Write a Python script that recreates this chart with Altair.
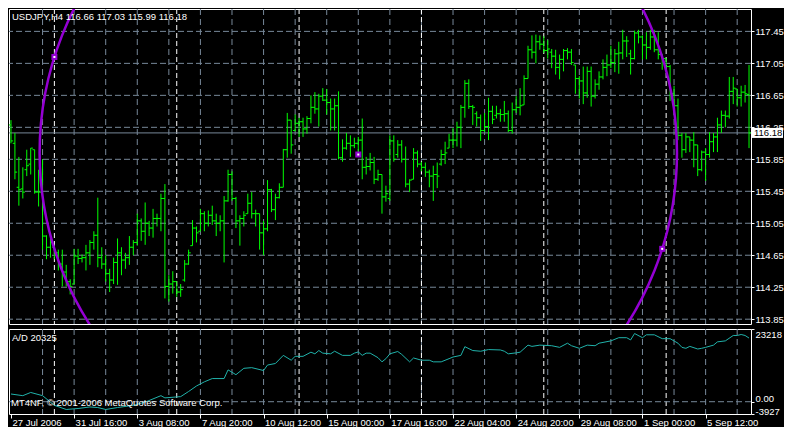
import math
import altair as alt
import pandas as pd

SYMBOL = "USDJPY,H4"

highs = [116.34, 116.18, 115.88, 115.75, 115.97, 115.99, 115.97, 115.72, 115.85, 114.90,
         114.93, 114.77, 114.72, 114.72, 114.53, 114.35, 114.73, 114.73, 114.66, 114.78,
         114.84, 114.95, 115.37, 114.75, 114.65, 114.48, 114.62, 114.86, 114.75, 114.68,
         114.89, 114.84, 115.17, 115.11, 115.31, 115.08, 115.23, 115.17, 115.42, 115.54,
         114.40, 114.45, 114.32, 114.29, 114.59, 114.72, 115.09, 115.01, 115.23, 115.20,
         115.21, 115.27, 115.17, 115.15, 115.39, 115.72, 115.70, 115.38, 115.15, 115.20,
         115.42, 115.44, 115.22, 115.17, 115.08, 115.59, 115.48, 115.42, 115.55, 115.98,
         116.43, 116.34, 116.41, 116.37, 116.37, 116.39, 116.65, 116.69, 116.67, 116.74,
         116.73, 116.61, 116.61, 116.70, 116.10, 116.18, 116.15, 116.12, 116.13, 116.36,
         115.88, 115.93, 115.88, 115.72, 115.66, 115.52, 116.15, 116.15, 116.09, 116.09,
         116.01, 115.60, 115.99, 115.96, 115.82, 115.81, 115.72, 115.77, 115.81, 115.97,
         116.07, 116.17, 116.24, 116.32, 116.53, 116.84, 116.85, 116.53, 116.45, 116.41,
         116.43, 116.62, 116.52, 116.52, 116.48, 116.58, 116.46, 116.56, 116.64, 116.74,
         116.90, 117.27, 117.40, 117.41, 117.40, 117.39, 117.34, 117.23, 117.22, 117.16,
         117.23, 117.24, 117.23, 117.03, 116.89, 117.01, 117.01, 117.01, 116.85, 116.95,
         117.10, 117.16, 117.27, 117.23, 117.32, 117.47, 117.39, 117.22, 117.46, 117.47,
         117.40, 117.44, 117.47, 117.47, 117.44, 117.17, 117.11, 117.03, 116.77, 116.61,
         116.18, 116.18, 116.13, 116.19, 116.03, 115.96, 115.99, 116.19, 116.18, 116.37,
         116.46, 116.46, 116.88, 116.88, 116.73, 116.77, 116.78, 117.03]

lows = [116.05, 115.60, 115.27, 115.36, 115.64, 115.66, 115.42, 115.26, 114.72, 114.60,
        114.62, 114.60, 114.46, 114.26, 114.26, 114.16, 114.29, 114.54, 114.56, 114.46,
        114.53, 114.72, 114.50, 114.48, 114.32, 114.19, 114.29, 114.28, 114.40, 114.48,
        114.53, 114.65, 114.77, 114.83, 114.78, 114.89, 114.87, 115.01, 114.95, 114.11,
        114.07, 114.17, 114.13, 114.13, 114.32, 114.53, 114.77, 114.81, 114.95, 114.95,
        115.01, 115.03, 114.89, 114.95, 114.56, 115.32, 115.33, 114.99, 114.77, 115.01,
        115.17, 115.11, 115.01, 114.72, 114.65, 114.95, 115.19, 115.09, 115.36, 115.50,
        115.87, 115.92, 116.20, 116.13, 116.13, 116.17, 116.30, 116.42, 116.26, 116.58,
        116.41, 116.21, 116.21, 115.85, 115.82, 115.97, 115.88, 115.99, 115.93, 115.60,
        115.66, 115.71, 115.54, 115.58, 115.17, 115.32, 115.33, 115.82, 115.87, 115.81,
        115.50, 115.44, 115.60, 115.75, 115.70, 115.63, 115.50, 115.33, 115.49, 115.77,
        115.79, 115.99, 115.99, 116.01, 115.99, 116.37, 116.48, 116.28, 116.26, 116.08,
        116.19, 116.09, 116.29, 116.36, 116.32, 116.32, 116.19, 116.17, 116.43, 116.40,
        116.53, 116.86, 117.11, 117.05, 117.22, 117.18, 117.11, 116.99, 116.91, 116.85,
        116.95, 117.10, 117.03, 116.67, 116.61, 116.54, 116.62, 116.51, 116.61, 116.72,
        116.85, 116.89, 116.99, 116.94, 116.92, 117.10, 117.13, 116.91, 117.10, 117.30,
        117.10, 117.10, 117.22, 117.19, 117.10, 116.97, 116.95, 116.58, 116.40, 116.09,
        115.87, 115.93, 115.94, 115.75, 115.64, 115.70, 115.58, 115.87, 115.94, 115.94,
        116.18, 116.25, 116.36, 116.54, 116.51, 116.51, 116.56, 115.99]

opens = [116.28, 116.05, 115.50, 115.48, 115.72, 115.79, 115.97, 115.44, 115.44, 114.89,
         114.75, 114.75, 114.68, 114.54, 114.44, 114.32, 114.29, 114.64, 114.61, 114.62,
         114.68, 114.81, 114.90, 114.62, 114.54, 114.42, 114.34, 114.56, 114.68, 114.59,
         114.62, 114.75, 114.81, 115.08, 114.95, 115.05, 114.99, 115.11, 115.11, 115.36,
         114.26, 114.29, 114.32, 114.19, 114.34, 114.54, 114.77, 114.99, 114.95, 115.17,
         115.05, 115.15, 115.08, 115.05, 115.08, 115.33, 115.66, 115.36, 115.08, 115.11,
         115.17, 115.30, 115.17, 115.17, 114.93, 114.98, 115.47, 115.22, 115.37, 115.50,
         115.97, 116.34, 116.21, 116.30, 116.32, 116.23, 116.36, 116.50, 116.48, 116.64,
         116.59, 116.56, 116.48, 116.52, 115.87, 115.99, 116.05, 116.02, 116.05, 116.09,
         115.75, 115.76, 115.81, 115.60, 115.66, 115.38, 115.36, 116.08, 115.91, 116.03,
         115.85, 115.54, 115.60, 115.93, 115.79, 115.75, 115.69, 115.64, 115.66, 115.79,
         115.91, 115.99, 116.09, 116.09, 116.25, 116.50, 116.80, 116.51, 116.42, 116.37,
         116.21, 116.26, 116.45, 116.40, 116.42, 116.41, 116.42, 116.21, 116.47, 116.50,
         116.53, 116.86, 117.22, 117.19, 117.32, 117.29, 117.21, 117.19, 117.14, 117.00,
         117.10, 117.21, 117.19, 117.03, 116.86, 116.83, 116.68, 116.95, 116.64, 116.79,
         116.88, 117.00, 117.03, 117.06, 117.17, 117.18, 117.33, 117.17, 117.11, 117.43,
         117.38, 117.28, 117.25, 117.38, 117.22, 117.16, 117.11, 117.01, 116.67, 116.52,
         116.15, 115.97, 116.13, 116.09, 116.03, 115.72, 115.94, 115.91, 116.07, 116.13,
         116.28, 116.40, 116.39, 116.70, 116.73, 116.62, 116.69, 116.66]

closes = [116.08, 115.69, 115.47, 115.44, 115.77, 115.99, 115.44, 115.44, 114.89, 114.75,
          114.81, 114.68, 114.54, 114.44, 114.32, 114.26, 114.64, 114.61, 114.62, 114.68,
          114.81, 114.90, 114.62, 114.54, 114.42, 114.34, 114.56, 114.68, 114.59, 114.62,
          114.75, 114.81, 115.08, 114.95, 115.05, 114.99, 115.11, 115.11, 115.36, 114.26,
          114.29, 114.32, 114.19, 114.22, 114.54, 114.68, 114.99, 114.93, 115.17, 115.05,
          115.15, 115.08, 115.05, 115.08, 115.33, 115.66, 115.36, 115.08, 115.11, 115.15,
          115.30, 115.17, 115.17, 114.93, 114.98, 115.47, 115.22, 115.37, 115.50, 115.97,
          116.34, 116.03, 116.30, 116.32, 116.23, 116.36, 116.50, 116.48, 116.64, 116.59,
          116.56, 116.48, 116.52, 115.87, 115.99, 116.05, 116.02, 116.05, 116.09, 115.75,
          115.76, 115.81, 115.60, 115.66, 115.38, 115.42, 116.08, 115.85, 116.03, 115.85,
          115.54, 115.59, 115.93, 115.79, 115.75, 115.69, 115.64, 115.66, 115.64, 115.91,
          115.93, 116.09, 116.09, 116.25, 116.50, 116.80, 116.51, 116.50, 116.37, 116.21,
          116.26, 116.45, 116.35, 116.42, 116.41, 116.42, 116.21, 116.47, 116.50, 116.52,
          116.86, 117.22, 117.19, 117.32, 117.29, 117.21, 117.23, 117.14, 117.00, 117.10,
          117.21, 117.19, 117.06, 116.86, 116.83, 116.68, 116.95, 116.64, 116.79, 116.88,
          117.00, 117.03, 117.06, 117.17, 117.18, 117.33, 117.33, 117.11, 117.43, 117.38,
          117.28, 117.25, 117.38, 117.22, 117.16, 117.11, 117.01, 116.67, 116.52, 116.15,
          115.97, 116.13, 116.09, 116.03, 115.72, 115.94, 115.91, 116.07, 116.13, 116.28,
          116.40, 116.39, 116.70, 116.74, 116.62, 116.69, 116.67, 116.18]

# bottom time scale
date_ticks = [0, 16, 32, 48, 64, 80, 96, 112, 128, 144, 160, 176]
date_labels = ["27 Jul 2006", "31 Jul 16:00", "3 Aug 08:00", "7 Aug 20:00",
               "10 Aug 12:00", "15 Aug 00:00", "17 Aug 16:00", "22 Aug 04:00",
               "24 Aug 20:00", "29 Aug 08:00", "1 Sep 00:00", "5 Sep 12:00"]
grid_bars = [8, 16, 24, 32, 40, 48, 56, 64, 72, 80, 88, 96, 104, 112, 120, 128,
             136, 144, 152, 160, 168, 176, 184]
week_separators = [11, 42, 73, 104, 135, 166]
price_levels = [113.85, 114.25, 114.65, 115.05, 115.45, 115.85, 116.25, 116.65, 117.05, 117.45]
bid = 116.18

# Accumulation/Distribution sub-window
ad_bar = [0, 3, 5, 8, 11, 14, 17, 20, 22, 24, 27, 31, 34, 38, 39, 43, 45, 47, 49, 51,
          54, 55, 57, 59, 61, 64, 65, 67, 69, 71, 72, 74, 76, 77, 78, 79, 81, 82, 84, 86,
          87, 88, 89, 90, 91, 93, 94, 95, 96, 98, 99, 101, 102, 104, 106, 107, 109, 111, 112, 114,
          115, 117, 119, 121, 124, 125, 126, 128, 129, 131, 132, 134, 137, 139, 141, 142, 144, 146, 148, 149,
          152, 154, 156, 157, 158, 160, 161, 163, 165, 167, 169, 170, 171, 172, 174, 175, 176, 178, 179, 181,
          183, 184, 185, 186, 187]
ad_value = [2456, 1931, 2950, 1931, -1154, -2480, -2172, -1678, -1863, -2480, -1863, -1154, -135, 1931, 1222, 1623, 3258, 5016, 6343, 7392,
            7392, 10168, 8626, 10662, 10878, 9952, 11711, 12205, 14796, 13253, 14487, 14487, 15814, 15290, 16338, 15505, 15290, 16122, 14796, 14796,
            15505, 15907, 14796, 15505, 15505, 14056, 12729, 13747, 15290, 16030, 15104, 12729, 13963, 13253, 13253, 12729, 12729, 13747, 14271, 14796,
            17572, 16338, 16122, 16647, 16524, 16122, 15290, 15598, 15814, 18066, 17665, 18066, 17881, 17356, 18683, 17881, 17048, 18066, 17881, 18683,
            19423, 20441, 20441, 19732, 21768, 20441, 21367, 21367, 20133, 20133, 18683, 17356, 17048, 17665, 16832, 17048, 17356, 18066, 19115, 19423,
            21151, 21151, 21460, 21151, 20325]
ad_max = 23218
ad_min = -3927

# ellipse object anchors (bar, price)
ellipse_bar = [11, 88, 165]
ellipse_price = [117.13, 115.91, 114.73]

# ---------------- styling ----------------
FONT = "Liberation Sans"
FS = 9.5
GRID = "#778899"
BAR = "#00ff00"
ADC = "#20b2aa"
PURPLE = "#9400d3"
PLOT_W = 742
MAIN_H = 315
IND_H = 85
n = len(highs)
PX_PER_BAR = PLOT_W / n

x_scale = alt.Scale(domain=[-0.5, n - 0.5], nice=False, zero=False)
y_scale = alt.Scale(domain=[113.79, 117.73], nice=False, zero=False)
PX_PER_YEN = MAIN_H / (117.73 - 113.79)
ad_scale = alt.Scale(domain=[ad_min, ad_max], nice=False, zero=False)

bars = pd.DataFrame({"i": list(range(n)), "open": opens, "high": highs,
                     "low": lows, "close": closes})

price_axis = alt.Axis(orient="right", values=price_levels, format=".2f",
                      labelFont=FONT, labelFontSize=FS, labelColor="white",
                      tickColor="white", tickSize=3, labelPadding=1, zindex=0,
                      domain=False, grid=False, labelOverlap=False, title=None)
label_expr = "[" + ", ".join(f"'{s}'" for s in date_labels) + "][round(datum.value / 16)]"
time_axis = alt.Axis(orient="bottom", values=date_ticks, labelExpr=label_expr,
                     labelAlign="left", labelBaseline="top", labelPadding=-1,
                     labelOffset=1, tickSize=4, tickColor="white",
                     labelColor="white", labelFont=FONT, labelFontSize=FS,
                     domain=False, grid=False, labelOverlap=False, labelBound=False,
                     labelFlush=False, title=None)
ad_axis = alt.Axis(orient="right", values=[ad_max, 0, ad_min],
                   labelExpr="datum.value == 0 ? '0.00' : '' + datum.value",
                   labelBaseline={"condition": {"test": "datum.value > 0", "value": "top"},
                                  "value": "alphabetic"},
                   labelFont=FONT, labelFontSize=FS, labelColor="white",
                   tickColor="white", tickSize=3, labelPadding=1, labelFlush=False,
                   domain=False, grid=False, labelOverlap=False, title=None)


def mx(field):
    return alt.X(f"{field}:Q", scale=x_scale, axis=None, title=None)


def my(field):
    return alt.Y(f"{field}:Q", scale=y_scale, axis=price_axis, title=None)


def ix(field):
    return alt.X(f"{field}:Q", scale=x_scale, axis=time_axis, title=None)


def iy(field):
    return alt.Y(f"{field}:Q", scale=ad_scale, axis=ad_axis, title=None)


# ---- main window ----
hgrid = alt.Chart(pd.DataFrame({"level": price_levels})).mark_rule(
    color=GRID, strokeDash=[6, 3], strokeWidth=1).encode(y=my("level"))
vgrid_df = pd.DataFrame({"bar": grid_bars})
sep_df = pd.DataFrame({"bar": week_separators})
vgrid = alt.Chart(vgrid_df).mark_rule(color=GRID, strokeDash=[6, 4], strokeWidth=1).encode(x=mx("bar"))
seps = alt.Chart(sep_df).mark_rule(color="white", strokeDash=[5, 3], strokeWidth=1).encode(x=mx("bar"))
bid_df = pd.DataFrame({"price": [bid]})
bidline = alt.Chart(bid_df).mark_rule(color=GRID, strokeWidth=1).encode(y=my("price"))

hl = alt.Chart(bars).mark_rule(color=BAR, strokeWidth=1, clip=True).encode(
    x=mx("i"), y=my("low"), y2="high:Q")
op = alt.Chart(bars).mark_rule(color=BAR, strokeWidth=1, xOffset=-2.2, x2Offset=0, clip=True).encode(
    x=mx("i"), x2="i:Q", y=my("open"))
cl = alt.Chart(bars).mark_rule(color=BAR, strokeWidth=1, xOffset=0, x2Offset=2.2, clip=True).encode(
    x=mx("i"), x2="i:Q", y=my("close"))

cx = (ellipse_bar[0] + ellipse_bar[2]) / 2
cy = (ellipse_price[0] + ellipse_price[2]) / 2
diam = math.hypot((ellipse_bar[2] - ellipse_bar[0]) * PX_PER_BAR,
                  (ellipse_price[0] - ellipse_price[2]) * PX_PER_YEN)
circle = alt.Chart(pd.DataFrame({"bar": [cx], "price": [cy]})).mark_point(
    shape="circle", filled=False, size=diam ** 2, strokeWidth=2.5,
    color=PURPLE, opacity=1, clip=True
).encode(x=mx("bar"), y=my("price"))

anchors = pd.DataFrame({"bar": ellipse_bar, "price": ellipse_price})
anchor_sq = alt.Chart(anchors).mark_point(shape="square", filled=True, size=36,
                                          color=PURPLE, opacity=1).encode(x=mx("bar"), y=my("price"))
anchor_dot = alt.Chart(anchors).mark_point(shape="square", filled=True, size=4,
                                           color="white", opacity=1).encode(x=mx("bar"), y=my("price"))

title_str = f"{SYMBOL}  {opens[-1]:.2f} {highs[-1]:.2f} {lows[-1]:.2f} {closes[-1]:.2f}"
title = alt.Chart(pd.DataFrame({"t": [title_str]})).mark_text(
    align="left", baseline="middle", color="white", font=FONT, fontSize=FS
).encode(x=alt.value(3), y=alt.value(8), text="t:N")

bid_box = alt.Chart(bid_df).mark_point(
    shape="M-1.6,-0.5L1.6,-0.5L1.6,0.5L-1.6,0.5Z", filled=True, size=400,
    color="white", opacity=1, clip=False
).encode(x=alt.value(PLOT_W + 16), y=my("price"))
bid_txt = alt.Chart(bid_df).mark_text(
    align="left", baseline="middle", color="black", font=FONT, fontSize=FS
).encode(x=alt.value(PLOT_W + 3), y=my("price"), text=alt.Text("price:Q", format=".2f"))

main = alt.layer(hgrid, vgrid, seps, bidline, hl, op, cl, circle, anchor_sq, anchor_dot,
                 title, bid_box, bid_txt).properties(width=PLOT_W, height=MAIN_H)

# ---- A/D window ----
ivgrid = alt.Chart(vgrid_df).mark_rule(color=GRID, strokeDash=[6, 4], strokeWidth=1).encode(x=ix("bar"))
iseps = alt.Chart(sep_df).mark_rule(color="white", strokeDash=[5, 3], strokeWidth=1).encode(x=ix("bar"))
zero = alt.Chart(pd.DataFrame({"v": [0]})).mark_rule(color=GRID, strokeDash=[6, 3]).encode(y=iy("v"))
ad_line = alt.Chart(pd.DataFrame({"bar": ad_bar, "ad": ad_value})).mark_line(
    color=ADC, strokeWidth=1, clip=True
).encode(x=ix("bar"), y=iy("ad"))
ad_title = alt.Chart(pd.DataFrame({"t": [f"A/D {ad_value[-1]}"]})).mark_text(
    align="left", baseline="middle", color="white", font=FONT, fontSize=FS
).encode(x=alt.value(3), y=alt.value(9), text="t:N")
copyright_txt = alt.Chart(pd.DataFrame({"t": ["MT4NF, \u00a9 2001-2006 MetaQuotes Software Corp."]})).mark_text(
    align="left", baseline="middle", color="white", font=FONT, fontSize=FS
).encode(x=alt.value(2), y=alt.value(74), text="t:N")

ind = alt.layer(ivgrid, iseps, zero, ad_line, ad_title, copyright_txt).properties(
    width=PLOT_W, height=IND_H)

PAGE_CSS = "html,body{background:#000;}"

chart = alt.VConcatChart(
    vconcat=[main, ind], spacing=3,
    padding={"left": 0, "top": 0, "right": 0, "bottom": 0},
    background="black",
    usermeta={"embedOptions": {"defaultStyle": PAGE_CSS}},
).configure_view(stroke="white", strokeWidth=1, fill="black")

chart.save("out.html", embed_options={"renderer": "svg", "actions": False})
